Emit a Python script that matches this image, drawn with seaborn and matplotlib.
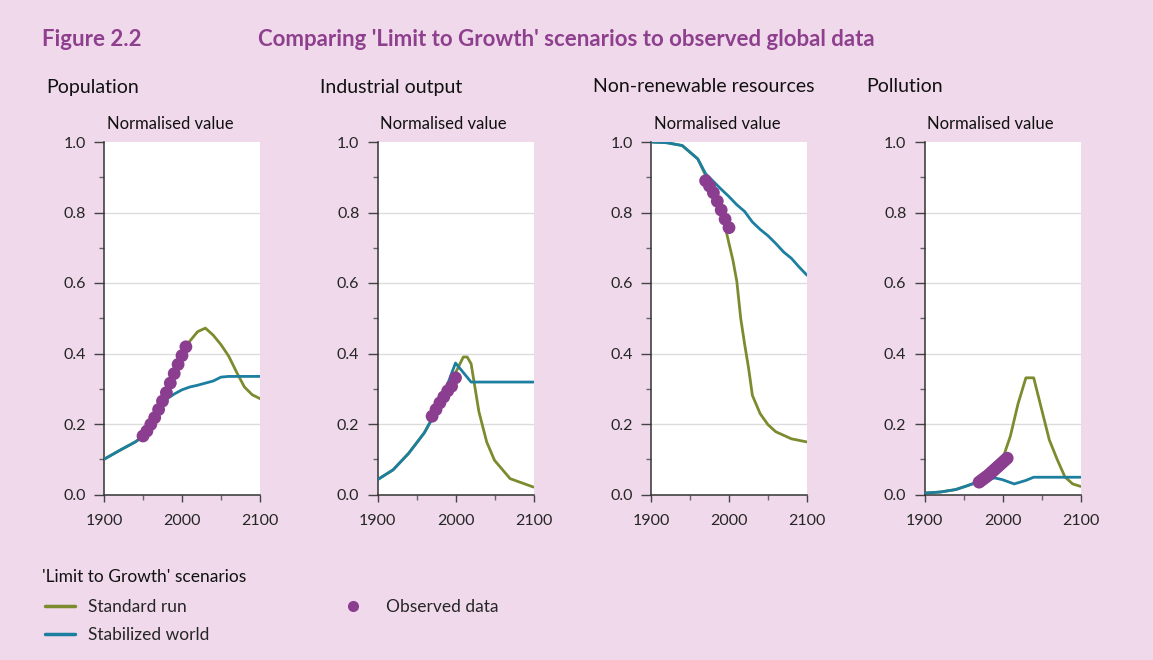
import matplotlib
matplotlib.use("Agg")
import matplotlib.pyplot as plt
from matplotlib.lines import Line2D
from matplotlib.ticker import FixedLocator
import seaborn as sns
import pandas as pd

# ---------------- data ----------------
panel_titles = ["Population", "Industrial output", "Non-renewable resources", "Pollution"]
y_ticks = [0.0, 0.2, 0.4, 0.6, 0.8, 1.0]
y_minor = [0.1, 0.3, 0.5, 0.7, 0.9]
x_ticks = [1900, 2000, 2100]
x_minor = [1950, 2050]

pop_std_years = [1900, 1920, 1940, 1950, 1960, 1970, 1980, 1990, 2000, 2010, 2020, 2030, 2040, 2050, 2060, 2070, 2080, 2090, 2100]
pop_std = [0.10, 0.125, 0.149, 0.165, 0.195, 0.235, 0.285, 0.338, 0.395, 0.435, 0.462, 0.472, 0.452, 0.425, 0.392, 0.347, 0.305, 0.283, 0.272]
pop_stab_years = [1900, 1920, 1940, 1950, 1960, 1970, 1980, 1990, 2000, 2010, 2020, 2030, 2040, 2050, 2060, 2100]
pop_stab = [0.10, 0.125, 0.149, 0.165, 0.195, 0.235, 0.27, 0.285, 0.297, 0.305, 0.31, 0.316, 0.322, 0.333, 0.335, 0.335]
pop_obs_years = [1950, 1955, 1960, 1965, 1970, 1975, 1980, 1985, 1990, 1995, 2000, 2005]
pop_obs = [0.166, 0.18, 0.199, 0.218, 0.241, 0.265, 0.289, 0.316, 0.343, 0.369, 0.394, 0.419]

ind_std_years = [1900, 1920, 1940, 1960, 1980, 1990, 2000, 2010, 2015, 2020, 2030, 2040, 2050, 2070, 2100]
ind_std = [0.042, 0.07, 0.117, 0.175, 0.255, 0.30, 0.345, 0.39, 0.39, 0.371, 0.235, 0.149, 0.097, 0.045, 0.021]
ind_stab_years = [1900, 1920, 1940, 1960, 1980, 2000, 2020, 2100]
ind_stab = [0.042, 0.07, 0.117, 0.175, 0.255, 0.373, 0.319, 0.319]
ind_obs_years = [1970, 1975, 1980, 1985, 1990, 1995, 2000]
ind_obs = [0.222, 0.241, 0.26, 0.277, 0.294, 0.307, 0.331]

res_std_years = [1900, 1920, 1940, 1960, 1970, 1980, 1990, 1995, 2000, 2005, 2010, 2015, 2020, 2025, 2030, 2040, 2050, 2060, 2080, 2100]
res_std = [1.0, 0.998, 0.99, 0.952, 0.905, 0.86, 0.80, 0.76, 0.712, 0.665, 0.605, 0.50, 0.427, 0.36, 0.281, 0.229, 0.198, 0.178, 0.158, 0.149]
res_stab_years = [1900, 1920, 1940, 1960, 1970, 1980, 1990, 2000, 2010, 2020, 2030, 2040, 2050, 2060, 2070, 2080, 2090, 2100]
res_stab = [1.0, 0.998, 0.99, 0.952, 0.91, 0.888, 0.866, 0.845, 0.822, 0.803, 0.773, 0.752, 0.734, 0.712, 0.688, 0.67, 0.645, 0.622]
res_obs_years = [1970, 1975, 1980, 1985, 1990, 1995, 2000]
res_obs = [0.89, 0.875, 0.856, 0.832, 0.807, 0.781, 0.757]

pol_std_years = [1900, 1920, 1940, 1955, 1970, 1980, 1990, 2000, 2010, 2020, 2030, 2040, 2050, 2060, 2070, 2080, 2090, 2100]
pol_std = [0.004, 0.007, 0.014, 0.025, 0.037, 0.05, 0.07, 0.10, 0.165, 0.258, 0.331, 0.331, 0.243, 0.155, 0.10, 0.05, 0.03, 0.023]
pol_stab_years = [1900, 1920, 1940, 1955, 1970, 1990, 2000, 2015, 2030, 2040, 2100]
pol_stab = [0.004, 0.007, 0.014, 0.025, 0.037, 0.047, 0.042, 0.03, 0.04, 0.049, 0.049]
pol_obs_years = [1970, 1973, 1976, 1979, 1982, 1985, 1988, 1991, 1994, 1997, 2000, 2003, 2006]
pol_obs = [0.035, 0.040, 0.045, 0.05, 0.055, 0.061, 0.067, 0.073, 0.079, 0.085, 0.091, 0.097, 0.103]

panels = [
    (pop_std_years, pop_std, pop_stab_years, pop_stab, pop_obs_years, pop_obs),
    (ind_std_years, ind_std, ind_stab_years, ind_stab, ind_obs_years, ind_obs),
    (res_std_years, res_std, res_stab_years, res_stab, res_obs_years, res_obs),
    (pol_std_years, pol_std, pol_stab_years, pol_stab, pol_obs_years, pol_obs),
]

# ---------------- style ----------------
BG = "#efd9eb"
GREEN = "#7b8c2f"
TEAL = "#1c7fa0"
PURPLE = "#8b3d8f"
TITLE_PURPLE = "#8e3f8e"

sns.set_style("white")
plt.rcParams["font.family"] = ["Lato", "DejaVu Sans"]

W, H = 1153, 660
fig = plt.figure(figsize=(W / 100, H / 100), dpi=100, facecolor=BG)

ax_lefts = [104, 377.5, 651, 924.5]
ax_w = 156
ax_top, ax_bot = 142, 494.5

def fx(px):
    return px / W

def fy(py):
    return 1 - py / H

for i, (sy, sv, ty, tv, oy, ov) in enumerate(panels):
    ax = fig.add_axes([fx(ax_lefts[i]), fy(ax_bot), fx(ax_w), (ax_bot - ax_top) / H])
    ax.set_facecolor("white")
    std_df = pd.DataFrame({"year": sy, "value": sv})
    stab_df = pd.DataFrame({"year": ty, "value": tv})
    obs_df = pd.DataFrame({"year": oy, "value": ov})
    for yv in y_ticks[1:-1]:
        ax.axhline(yv, color="#dcdcdc", lw=1, zorder=0)
    sns.lineplot(data=std_df, x="year", y="value", ax=ax, color=GREEN, lw=2.0, zorder=2)
    sns.lineplot(data=stab_df, x="year", y="value", ax=ax, color=TEAL, lw=2.0, zorder=3)
    sns.scatterplot(data=obs_df, x="year", y="value", ax=ax, color=PURPLE, s=85,
                    edgecolor="none", zorder=4, clip_on=False)
    ax.set_xlim(1900, 2100)
    ax.set_ylim(0, 1.0)
    ax.set_xlabel("")
    ax.set_ylabel("")
    ax.xaxis.set_major_locator(FixedLocator(x_ticks))
    ax.xaxis.set_minor_locator(FixedLocator(x_minor))
    ax.yaxis.set_major_locator(FixedLocator(y_ticks))
    ax.yaxis.set_minor_locator(FixedLocator(y_minor))
    ax.set_yticklabels([f"{v:.1f}" for v in y_ticks])
    ax.set_xticklabels([str(v) for v in x_ticks])
    for s in ["top", "right"]:
        ax.spines[s].set_visible(False)
    for s in ["left", "bottom"]:
        ax.spines[s].set_color("#333333")
        ax.spines[s].set_linewidth(1.1)
    ax.tick_params(axis="y", which="major", direction="out", length=7, width=1,
                   color="#444444", labelsize=11.5, pad=6, left=True)
    ax.tick_params(axis="y", which="minor", direction="out", length=3.5, width=1,
                   color="#666666", left=True)
    ax.tick_params(axis="x", which="major", direction="out", length=5, width=1,
                   color="#444444", labelsize=11.5, pad=9, bottom=True)
    ax.tick_params(axis="x", which="minor", direction="out", length=3.5, width=1,
                   color="#666666", bottom=True)
    # panel title and axis caption
    fig.text(fx(ax_lefts[i] - 58), fy(87), panel_titles[i], fontsize=14,
             ha="left", va="center", color="#111111")
    fig.text(fx(ax_lefts[i] + ax_w / 2 - 12), fy(124), "Normalised value", fontsize=12,
             ha="center", va="center", color="#111111")

# headings
fig.text(fx(42), fy(39), "Figure 2.2", fontsize=16, fontweight="bold",
         color=TITLE_PURPLE, ha="left", va="center")
fig.text(fx(258), fy(39), "Comparing 'Limit to Growth' scenarios to observed global data",
         fontsize=16, fontweight="bold", color=TITLE_PURPLE, ha="left", va="center")

# legend
fig.text(fx(42), fy(577), "'Limit to Growth' scenarios", fontsize=12.5,
         ha="left", va="center", color="#111111")
handles = [
    Line2D([], [], color=GREEN, lw=2.5, label="Standard run"),
    Line2D([], [], color=TEAL, lw=2.5, label="Stabilized world"),
]
leg1 = fig.legend(handles=handles, loc="upper left", bbox_to_anchor=(fx(45), fy(599)),
                  frameon=False, fontsize=12.5, handlelength=1.75, handletextpad=0.75,
                  labelspacing=0.72, borderaxespad=0, borderpad=0)
obs_handle = [Line2D([], [], color=PURPLE, lw=0, marker="o", markersize=8,
                     markeredgewidth=0, label="Observed data")]
leg2 = fig.legend(handles=obs_handle, loc="upper left", bbox_to_anchor=(fx(338), fy(599)),
                  frameon=False, fontsize=12.5, handlelength=1.75, handletextpad=1.0,
                  borderaxespad=0, borderpad=0)

fig.savefig("out.png", dpi=100, facecolor=BG)
